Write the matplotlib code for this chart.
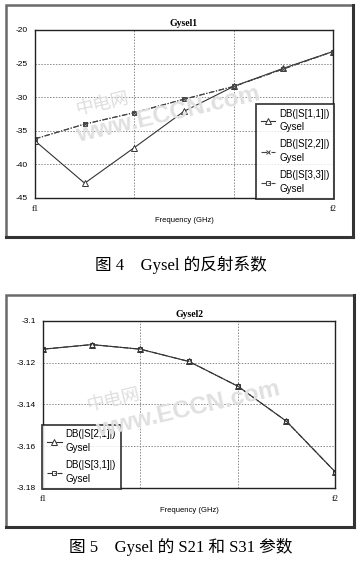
import matplotlib
matplotlib.use("Agg")
import matplotlib.pyplot as plt
from matplotlib.patches import Rectangle
from matplotlib.lines import Line2D

# frequency sweep points between f1 and f2
freq_idx = [0, 1, 2, 3, 4, 5, 6]
freq_ticks = [0, 2, 4, 6]
freq_ticklabels = ["f1", "", "", "f2"]

# reflection coefficients (dB)
s11 = [-36.5, -42.8, -37.5, -32.1, -28.4, -25.7, -23.2]
s22 = [-36.2, -34.0, -32.3, -30.3, -28.4, -25.8, -23.2]
s33 = [-36.2, -34.0, -32.3, -30.3, -28.4, -25.8, -23.2]
refl_yticks = [-20, -25, -30, -35, -40, -45]

# transmission coefficients (dB)
s21 = [-3.1135, -3.1113, -3.1135, -3.1194, -3.1312, -3.1480, -3.1722]
s31 = [-3.1135, -3.1113, -3.1135, -3.1194, -3.1312, -3.1480, -3.1722]
trans_yticks = [-3.10, -3.12, -3.14, -3.16, -3.18]
trans_yticklabels = ["-3.1", "-3.12", "-3.14", "-3.16", "-3.18"]

W, H = 360, 562
fig = plt.figure(figsize=(W / 100, H / 100), dpi=100)
fig.patch.set_facecolor("white")

SANS = "Liberation Sans"
SERIF = "Liberation Serif"
CAPTION = ["Liberation Serif", "Noto Sans CJK SC"]


def px_axes(x0, y0, x1, y1):
    return fig.add_axes([x0 / W, 1 - y1 / H, (x1 - x0) / W, (y1 - y0) / H])


def frame(x0, y0, x1, y1):
    fig.patches.append(Rectangle((x0 / W, 1 - y1 / H), (x1 - x0) / W, (y1 - y0) / H,
                                 transform=fig.transFigure, fill=False,
                                 edgecolor="#6a6a6a", linewidth=1.8, zorder=0))
    # darker shadow along the right and bottom edges
    fig.lines.append(Line2D([x1 / W, x1 / W], [1 - y1 / H, 1 - y0 / H],
                            transform=fig.transFigure, color="#333333", lw=2.2))
    fig.lines.append(Line2D([x0 / W, x1 / W], [1 - y1 / H, 1 - y1 / H],
                            transform=fig.transFigure, color="#333333", lw=2.2))


def style_axes(ax, title):
    ax.set_xlim(0, 6)
    ax.set_xticks(freq_ticks)
    ax.set_xticklabels(freq_ticklabels, fontsize=6, family=SERIF)
    ax.tick_params(length=0, pad=5)
    for lab in ax.get_yticklabels():
        lab.set_fontsize(6)
        lab.set_family(SANS)
    ax.grid(True, color="#8a8a8a", linestyle=(0, (1.5, 1.5)), linewidth=0.7)
    for sp in ax.spines.values():
        sp.set_linewidth(1.0)
        sp.set_color("#222222")
    ax.set_title(title, fontsize=7, family=SERIF, fontweight="bold", pad=3)
    ax.set_xlabel("Frequency (GHz)", fontsize=5.5, family=SANS, labelpad=3)


def watermark(hx, hy, cx, cy):
    fig.text(hx / W, 1 - hy / H, "中电网", family=["Noto Sans CJK SC"],
             fontsize=13, color="#dedede", rotation=13, ha="center", va="center", zorder=1)
    fig.text(cx / W, 1 - cy / H, "www.ECCN.com", family=SANS, fontweight="bold",
             fontsize=17.5, color="#e0e0e0", rotation=13, ha="center", va="center", zorder=1)


def add_legend(ax, loc, anchor):
    leg = ax.legend(loc=loc, bbox_to_anchor=anchor,
                    prop={"family": SANS, "size": 7}, frameon=True, fancybox=False,
                    handlelength=1.5, handletextpad=0.4, labelspacing=0.75,
                    borderpad=0.5, borderaxespad=0)
    for t in leg.get_texts():
        t.set_linespacing(1.45)
    leg.get_frame().set_edgecolor("#111111")
    leg.get_frame().set_linewidth(1.3)
    return leg


# ---------------- reflection chart ----------------
frame(6, 5, 353, 237)
ax1 = px_axes(35, 30, 333, 198)
ax1.set_facecolor("none")
ax1.set_ylim(-45, -20)
ax1.set_yticks(refl_yticks)
ax1.set_yticklabels([str(v) for v in refl_yticks])
ax1.plot(freq_idx, s11, color="#333333", lw=0.8, marker="^", ms=4,
         mfc="white", mec="#333333", mew=0.7, label="DB(|S[1,1]|)\nGysel")
ax1.plot(freq_idx, s22, color="#444444", lw=0.8, linestyle=(0, (5, 1.5, 1, 1.5)),
         marker="x", ms=3.5, mew=0.7, label="DB(|S[2,2]|)\nGysel")
ax1.plot(freq_idx, s33, color="#444444", lw=0.8, linestyle=(0, (5, 1.5, 1, 1.5)),
         marker="s", ms=3.5, mfc="none", mec="#444444", mew=0.7, label="DB(|S[3,3]|)\nGysel")
style_axes(ax1, "Gysel1")
add_legend(ax1, "lower right", (1.005, -0.005))
fig.text(181 / W, 1 - 265 / H, "图 4    Gysel 的反射系数", family=CAPTION,
         fontsize=12, ha="center", va="center")
watermark(102, 104, 168, 115)

# ---------------- transmission chart ----------------
frame(6, 295, 354, 527)
ax2 = px_axes(43, 321, 335, 488)
ax2.set_facecolor("none")
ax2.set_ylim(-3.18, -3.10)
ax2.set_yticks(trans_yticks)
ax2.set_yticklabels(trans_yticklabels)
ax2.plot(freq_idx, s21, color="#333333", lw=0.8, marker="^", ms=4,
         mfc="white", mec="#333333", mew=0.7, label="DB(|S[2,1]|)\nGysel")
ax2.plot(freq_idx, s31, color="#333333", lw=0.8, linestyle=(0, (5, 1.5, 1, 1.5)),
         marker="s", ms=3.5, mfc="none", mec="#333333", mew=0.7, label="DB(|S[3,1]|)\nGysel")
style_axes(ax2, "Gysel2")
add_legend(ax2, "lower left", (-0.003, -0.005))
fig.text(181 / W, 1 - 547 / H, "图 5    Gysel 的 S21 和 S31 参数", family=CAPTION,
         fontsize=12, ha="center", va="center")
watermark(113, 400, 188, 410)

fig.savefig("out.png", dpi=100, facecolor="white")
